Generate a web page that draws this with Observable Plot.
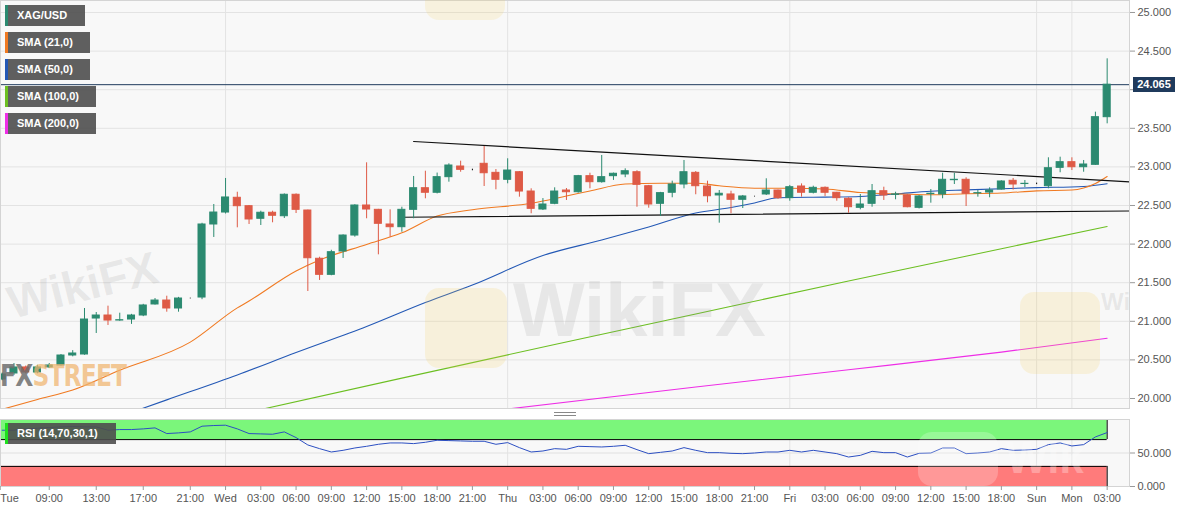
<!DOCTYPE html>
<html>
<head>
<meta charset="utf-8">
<script src="https://cdn.jsdelivr.net/npm/d3@7"></script>
<script src="https://cdn.jsdelivr.net/npm/@observablehq/plot@0.6"></script>
<style>
  body { margin: 0; background: #fff; font-family: "Liberation Sans", Arial, sans-serif; }
  #wrap { position: relative; width: 1194px; height: 513px; overflow: hidden; background: #fff; }
  #price, #rsi { position: absolute; left: 0; }
  #price { top: 0; }
  #rsi { top: 410px; }
  .tag { position: absolute; left: 5px; height: 21px; line-height: 21px; box-sizing: border-box;
         background: rgba(78,78,78,0.9); color: #fff; font-weight: bold; font-size: 11px;
         padding-left: 9px; border-left: 3px solid; white-space: nowrap; }
  .last { position: absolute; left: 1133px; width: 42px; height: 15px; line-height: 15px;
          background: #1f3a5c; color: #fff; font-weight: bold; font-size: 11px; text-align: center; }
  .wm { position: absolute; pointer-events: none; font-weight: bold; white-space: nowrap; line-height: 1; }
  .logo { position: absolute; pointer-events: none; border-radius: 14px; }
</style>
</head>
<body>
<div id="wrap">
  <div id="price"></div>
  <div id="rsi"></div>
</div>
<script>
// hourly candles, Tue 05:00 -> Mon 03:00 (weekend gap removed)
const opens = [20.246,20.324,20.402,20.337,20.402,20.428,20.557,20.570,21.036,21.075,
  21.010,21.023,21.075,21.218,21.269,21.166,21.295,21.308,22.254,22.409,
  22.600,22.491,22.328,22.406,22.361,22.639,22.435,21.810,21.602,21.904,
  22.111,22.500,22.444,22.254,22.219,22.444,22.724,22.665,22.867,23.005,
  22.962,23.040,22.923,22.833,22.931,22.681,22.448,22.522,22.694,22.672,
  22.880,22.802,22.880,22.902,22.931,22.750,22.522,22.665,22.772,22.923,
  22.746,22.630,22.643,22.574,22.617,22.643,22.694,22.595,22.746,22.665,
  22.729,22.665,22.587,22.470,22.522,22.685,22.638,22.630,22.470,22.648,
  22.643,22.828,22.833,22.657,22.668,22.707,22.820,22.778,22.781,22.750,
  22.988,23.061,22.996,23.027,23.644];
const highs = [20.330,20.453,20.420,20.430,20.453,20.570,20.620,21.166,21.114,21.196,
  21.105,21.090,21.220,21.295,21.325,21.310,21.300,22.270,22.513,22.850,
  22.672,22.500,22.426,22.426,22.650,22.650,22.440,21.830,21.920,22.120,
  22.510,23.053,22.450,22.444,22.478,22.876,22.944,22.920,23.040,23.074,
  22.970,23.264,22.966,23.105,22.940,22.716,22.590,22.729,22.720,22.890,
  22.918,23.148,22.920,22.975,22.950,22.760,22.670,22.815,23.083,22.940,
  22.815,22.694,22.685,22.630,22.620,22.846,22.700,22.760,22.780,22.750,
  22.740,22.670,22.600,22.643,22.772,22.737,22.672,22.640,22.630,22.707,
  22.918,22.918,22.859,22.694,22.729,22.820,22.850,22.824,22.790,23.118,
  23.126,23.118,23.083,23.709,24.400];
const lows = [20.230,20.298,20.320,20.320,20.389,20.420,20.540,20.560,20.842,20.946,
  21.000,20.960,21.060,21.210,21.118,21.118,21.290,21.280,22.086,22.390,
  22.211,22.254,22.241,22.276,22.332,22.396,21.386,21.529,21.590,21.814,
  22.090,22.328,21.861,22.089,22.154,22.328,22.587,22.650,22.802,22.931,
  22.950,22.746,22.703,22.781,22.608,22.393,22.435,22.510,22.565,22.660,
  22.716,22.790,22.825,22.860,22.478,22.465,22.358,22.600,22.716,22.639,
  22.535,22.271,22.393,22.461,22.610,22.630,22.580,22.556,22.608,22.650,
  22.617,22.556,22.400,22.444,22.478,22.565,22.574,22.470,22.455,22.530,
  22.587,22.772,22.487,22.608,22.600,22.700,22.700,22.733,22.770,22.716,
  22.924,22.953,22.931,23.020,23.558];
const closes = [20.311,20.402,20.337,20.402,20.428,20.557,20.583,21.023,21.075,21.010,
  21.014,21.075,21.205,21.269,21.166,21.295,21.295,22.254,22.409,22.604,
  22.491,22.319,22.406,22.367,22.639,22.444,21.817,21.602,21.895,22.111,
  22.500,22.448,22.263,22.219,22.444,22.724,22.665,22.867,23.018,22.962,
  22.962,22.918,22.833,22.953,22.681,22.457,22.513,22.681,22.672,22.880,
  22.802,22.867,22.911,22.944,22.768,22.513,22.660,22.772,22.931,22.750,
  22.620,22.652,22.574,22.617,22.617,22.694,22.595,22.737,22.665,22.729,
  22.665,22.595,22.478,22.513,22.685,22.630,22.643,22.478,22.617,22.652,
  22.833,22.833,22.652,22.660,22.694,22.811,22.772,22.781,22.781,22.983,
  23.061,22.996,23.031,23.644,24.065];

// SMA lines at selected bars
const sma21Idx = [0,3,6,10,16,20,21,25,27,31,34,37,40,45,48,50,53,56,59,61,64,67,70,73,76,79,82,85,88,91,92,93,94];
const sma21Val = [19.86,19.987,20.11,20.367,20.73,21.174,21.263,21.652,21.794,21.995,22.146,22.364,22.446,22.529,22.623,22.688,22.778,22.789,22.789,22.755,22.724,22.724,22.714,22.668,22.649,22.639,22.652,22.661,22.690,22.700,22.727,22.785,22.876];
const sma50Idx = [10,14,20,25,31,36,40,46,51,55,59,62,64,66,70,73,76,79,82,88,92,94];
const sma50Val = [19.767,19.982,20.305,20.596,20.933,21.244,21.470,21.852,22.053,22.222,22.403,22.474,22.532,22.600,22.609,22.617,22.649,22.685,22.702,22.731,22.746,22.781];
const sma100Idx = [22,34,47,59,72,85,94];
const sma100Val = [19.857,20.264,20.699,21.095,21.522,21.940,22.228];
const sma200Idx = [43,59,72,85,94];
const sma200Val = [19.864,20.149,20.372,20.601,20.781];

// triangle trendlines
const upperIdx = [35, 95.9];
const upperVal = [23.329, 22.807];
const lowerIdx = [34, 95.9];
const lowerVal = [22.348, 22.429];

// RSI (14)
const rsiValues = [84,84,86,87,88,89,89.5,89,89,84,85,85,86,87.5,79,80,81.5,90,91,91.5,
  86,79,78.5,78,81.5,73,62,56.5,51.5,54,57.5,60,63,65,65,64,66,69,68.5,68,
  67.5,67.5,63,65.5,58,51.5,53,56.5,55.5,60,59.5,59,60,61.5,55,49,51,53,58,54,
  50.5,50.5,49.5,49,50,51.5,51.5,54,51.5,54,51.5,49,44,46.5,52.5,50.5,50.5,44,49.5,50,
  57.5,57.5,49,50,51.5,56.5,54,54.5,55.5,62.5,65,60.5,62.5,74,80.5];
const rsiLevels = [{lo: 70, hi: 100, fill: "#7bf67b"}, {lo: 0, hi: 30, fill: "#ff7b7b"}];

const tickIdx = [0,4,8,12,16,19,22,25,28,31,34,37,40,43,46,49,52,55,58,61,64,67,70,73,76,79,82,85,88,91,94];
const tickLabels = ["Tue","09:00","13:00","17:00","21:00","Wed","03:00","06:00","09:00","12:00","15:00","18:00","21:00",
  "Thu","03:00","06:00","09:00","12:00","15:00","18:00","21:00","Fri","03:00","06:00","09:00","12:00","15:00","18:00",
  "Sun","Mon","03:00"];
const dayIdx = [19,43,67,88,91];
const priceTicks = [20,20.5,21,21.5,22,22.5,23,23.5,24,24.5,25];
const rsiTicks = [0, 50];

const GREEN = "#2b8a70", RED = "#de5a46";
const xDomain = [-0.145, 95.9];
const font = "Liberation Sans, Arial, sans-serif";

const candles = d3.range(opens.length).map(i => ({i, o: opens[i], h: highs[i], l: lows[i], c: closes[i]}));
const col = d => d.c > d.o ? GREEN : d.c < d.o ? RED : "#000";
const pts = (idx, val) => idx.map((i, k) => ({i, v: val[k]}));
const last = candles[candles.length - 1];
const fmt = d => d.toFixed(3);
// the last-price tag sits on top of the nearest price label
const priceFmt = d => Math.abs(d - last.c) < 0.1 ? "" : fmt(d);

const price = Plot.plot({
  width: 1194, height: 410,
  marginTop: 0, marginBottom: 2, marginLeft: 0, marginRight: 65,
  style: {background: "transparent", fontFamily: font, fontSize: "11px", color: "#555", overflow: "visible"},
  x: {domain: xDomain, axis: null, label: null},
  y: {domain: [19.8705, 25.1554], label: null},
  marks: [
    Plot.frame({fill: "#f8f8f8", stroke: null}),
    Plot.gridY(priceTicks, {stroke: "#e3e3e3", strokeOpacity: 1}),
    Plot.ruleX(dayIdx, {stroke: "#e3e3e3"}),
    Plot.line(pts(sma200Idx, sma200Val), {x: "i", y: "v", stroke: "#ee2ee6", strokeWidth: 1.1, curve: "monotone-x", clip: true}),
    Plot.line(pts(sma100Idx, sma100Val), {x: "i", y: "v", stroke: "#6cbf22", strokeWidth: 1.1, curve: "monotone-x", clip: true}),
    Plot.line(pts(sma50Idx, sma50Val), {x: "i", y: "v", stroke: "#2358b5", strokeWidth: 1.1, curve: "monotone-x", clip: true}),
    Plot.line(pts(sma21Idx, sma21Val), {x: "i", y: "v", stroke: "#f07a22", strokeWidth: 1.1, curve: "monotone-x", clip: true}),
    Plot.line(pts(upperIdx, upperVal), {x: "i", y: "v", stroke: "#111", strokeWidth: 1.2}),
    Plot.line(pts(lowerIdx, lowerVal), {x: "i", y: "v", stroke: "#111", strokeWidth: 1.2}),
    Plot.ruleY([last.c], {stroke: "#1f3a5c", strokeWidth: 1}),
    Plot.ruleX(candles, {x: "i", y1: "l", y2: "h", stroke: col, strokeWidth: 1, clip: true}),
    Plot.rect(candles, {x1: d => d.i - 0.3, x2: d => d.i + 0.3, y1: "o", y2: "c", fill: col, stroke: col, strokeWidth: 1, clip: true}),
    Plot.frame({stroke: "#d4d4d4"}),
    Plot.axisY(priceTicks, {anchor: "right", tickFormat: priceFmt, tickSize: 5, tickPadding: 3, stroke: "#999"})
  ]
});
document.getElementById("price").append(price);

const rsi = Plot.plot({
  width: 1194, height: 103,
  marginTop: 9, marginBottom: 27, marginLeft: 0, marginRight: 65,
  style: {background: "transparent", fontFamily: font, fontSize: "11px", color: "#555", overflow: "visible"},
  x: {domain: xDomain, label: null},
  y: {domain: [0, 100], label: null},
  marks: [
    Plot.frame({fill: "#f8f8f8", stroke: null}),
    Plot.gridY([50], {stroke: "#e0e0e0", strokeOpacity: 1}),
    Plot.ruleX(dayIdx, {stroke: "#e3e3e3"}),
    Plot.rect(rsiLevels, {x1: xDomain[0], x2: last.i, y1: "lo", y2: "hi", fill: "fill"}),
    Plot.ruleY([70, 30], {x1: xDomain[0], x2: last.i, stroke: "#000"}),
    Plot.ruleX(rsiLevels, {x: last.i, y1: "lo", y2: "hi", stroke: "#000"}),
    Plot.line(rsiValues.map((v, i) => ({i, v})), {x: "i", y: "v", stroke: "#2c4fc2", strokeWidth: 1}),
    Plot.frame({stroke: "#d4d4d4"}),
    Plot.axisY(rsiTicks, {anchor: "right", tickFormat: fmt, tickSize: 5, tickPadding: 3, stroke: "#999"}),
    Plot.axisX(tickIdx.slice(1), {tickFormat: d => tickLabels[tickIdx.indexOf(d)], tickSize: 4, tickPadding: 4, stroke: "#999"}),
    Plot.axisX(tickIdx.slice(0, 1), {tickFormat: d => tickLabels[tickIdx.indexOf(d)], tickSize: 4, tickPadding: 4, textAnchor: "start", dx: -2, stroke: "#999"})
  ]
});
document.getElementById("rsi").append(rsi);

const wrap = document.getElementById("wrap");
function addDiv(cls, css, text) {
  const el = document.createElement("div");
  el.className = cls;
  Object.assign(el.style, css);
  if (text) el.textContent = text;
  wrap.append(el);
  return el;
}

// watermarks (kept inside the picture and clear of the axis labels)
const wmGray = "rgba(140,140,140,0.16)";
addDiv("logo", {left: "425px", top: "-58px", width: "80px", height: "78px", background: "rgba(245,205,90,0.16)"});
addDiv("logo", {left: "425px", top: "288px", width: "82px", height: "80px", background: "rgba(245,205,90,0.18)"});
addDiv("wm", {left: "513px", top: "272px", fontSize: "76px", color: wmGray, fontFamily: font}, "WikiFX");
addDiv("logo", {left: "1020px", top: "292px", width: "80px", height: "82px", background: "rgba(245,205,90,0.18)"});
addDiv("wm", {left: "1101px", top: "290px", fontSize: "24px", color: wmGray, fontFamily: font}, "Wi");
addDiv("wm", {left: "6px", top: "262px", fontSize: "46px", color: wmGray, fontFamily: font, transform: "rotate(-14deg)"}, "WikiFX");
addDiv("logo", {left: "918px", top: "432px", width: "80px", height: "54px", background: "rgba(255,255,255,0.22)"});
addDiv("wm", {left: "1006px", top: "436px", fontSize: "44px", color: "rgba(255,255,255,0.28)", fontFamily: font}, "Wik");

// FXSTREET logo
const fx = addDiv("wm", {left: "0px", top: "360px", fontSize: "31px", fontFamily: "DejaVu Sans Condensed, Liberation Sans Narrow, sans-serif",
  letterSpacing: "-1px", transform: "scaleX(0.84)", transformOrigin: "left top"});
fx.innerHTML = '<span style="color:rgba(110,110,110,0.85)">FX</span><span style="color:rgba(240,180,110,0.72)">STREET</span>';

// panel grip
addDiv("", {position: "absolute", left: "554px", top: "412px", width: "22px", height: "2px", borderTop: "1px solid #888", borderBottom: "1px solid #888"});

// legend tags
const tags = [
  {t: "XAG/USD", c: GREEN, y: 5, w: 80},
  {t: "SMA (21,0)", c: "#f07a22", y: 32, w: 85},
  {t: "SMA (50,0)", c: "#2358b5", y: 59, w: 85},
  {t: "SMA (100,0)", c: "#6cbf22", y: 86, w: 91},
  {t: "SMA (200,0)", c: "#ee2ee6", y: 113, w: 91},
  {t: "RSI (14,70,30,1)", c: "#1ee01e", y: 423, w: 111}
];
tags.forEach(d => addDiv("tag", {top: d.y + "px", width: d.w + "px", borderLeftColor: d.c}, d.t));

// last price label
const yLast = price.scale("y").apply(last.c);
addDiv("last", {top: (yLast - 7.5) + "px"}, fmt(last.c));
</script>
</body>
</html>
